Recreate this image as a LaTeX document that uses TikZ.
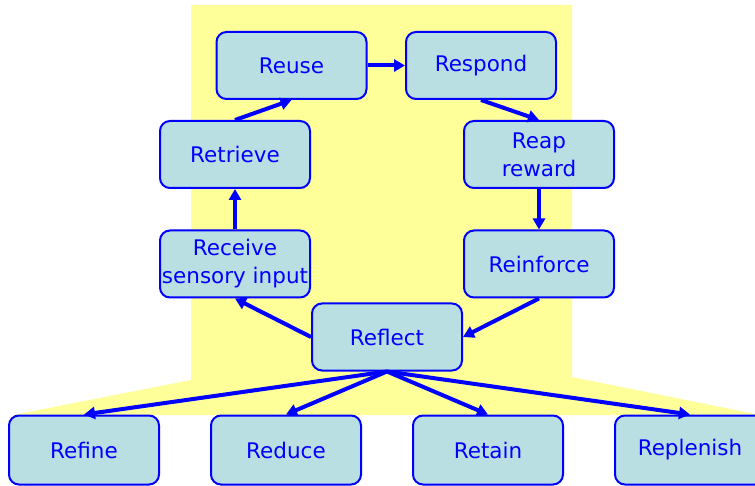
\documentclass[tikz,border=0pt]{standalone}
\usepackage{fontspec}
\setmainfont{DejaVu Sans}
\usetikzlibrary{arrows.meta}
\definecolor{bgyellow}{RGB}{255,255,153}
\definecolor{boxfill}{RGB}{185,223,227}
\definecolor{txtblue}{RGB}{0,0,255}
\begin{document}
\begin{tikzpicture}[x=1pt,y=-1pt,
  box/.style={draw=txtblue, line width=2pt, fill=boxfill, rounded corners=10pt,
    minimum width=150pt, minimum height=67pt, inner sep=0pt, align=center,
    text=txtblue, font=\fontsize{21.5}{28}\selectfont},
  conn/.style={draw=txtblue, line width=4pt, -{Triangle[length=11pt,width=12pt]}}]
\useasboundingbox (0,0) rectangle (755,486);
\clip (0,0) rectangle (755,486);
\fill[bgyellow] (191,5) -- (572,5) -- (572,377) -- (755,414) -- (755,415) -- (13,415) -- (191,380) -- cycle;
\node[box] (reuse) at (291.5,65.5) {Reuse};
\node[box] (respond) at (481,65.5) {Respond};
\node[box] (retrieve) at (235,154.5) {Retrieve};
\node[box] (reap) at (539,154.5) {Reap\\reward};
\node[box] (receive) at (235,264) {Receive\\sensory input};
\node[box] (reinforce) at (539,264) {Reinforce};
\node[box] (reflect) at (387,337) {Reflect};
\node[box,minimum height=69pt] (refine) at (84,450) {Refine};
\node[box,minimum height=69pt] (reduce) at (286,450) {Reduce};
\node[box,minimum height=69pt] (retain) at (488,450) {Retain};
\node[box,minimum height=69pt] (replenish) at (690,450) {Replenish};
\draw[conn] (reuse.east) -- (respond.west);
\draw[conn] (respond.south) -- (reap.north);
\draw[conn] (reap.south) -- (reinforce.north);
\draw[conn] (reinforce.south) -- (reflect.east);
\draw[conn] (reflect.west) -- (receive.south);
\draw[conn] (receive.north) -- (retrieve.south);
\draw[conn] (retrieve.north) -- (reuse.south);
\draw[conn] (reflect.south) -- (refine.north);
\draw[conn] (reflect.south) -- (reduce.north);
\draw[conn] (reflect.south) -- (retain.north);
\draw[conn] (reflect.south) -- (replenish.north);
\end{tikzpicture}
\end{document}
